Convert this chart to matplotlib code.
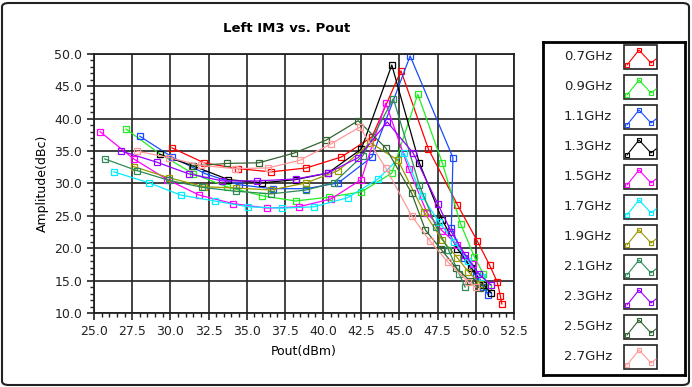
import matplotlib
matplotlib.use("Agg")
import matplotlib.pyplot as plt
from matplotlib.patches import Rectangle, FancyBboxPatch
from matplotlib.ticker import MultipleLocator, FormatStrFormatter

labels = ["0.7GHz", "0.9GHz", "1.1GHz", "1.3GHz", "1.5GHz", "1.7GHz",
          "1.9GHz", "2.1GHz", "2.3GHz", "2.5GHz", "2.7GHz"]
colors = ["#ff0000", "#22ee22", "#1a4cff", "#000000", "#ff00ff", "#00eeff",
          "#999900", "#2e8b57", "#9900ff", "#336633", "#ff9999"]

# Pout (dBm) and left IM3 (dBc) per frequency
pout_07 = [30.1, 32.2, 34.4, 36.6, 38.9, 41.2, 43.2, 45.1, 46.9, 48.8, 50.1, 50.9, 51.4, 51.6, 51.7]
im3_07 = [35.5, 33.2, 32.3, 31.8, 32.4, 34.1, 37.2, 47.4, 35.3, 26.7, 21.1, 17.4, 14.8, 12.7, 11.4]
pout_09 = [27.1, 29.3, 31.5, 33.7, 36.0, 38.2, 40.4, 42.5, 44.5, 46.2, 47.8, 49.0, 49.9, 50.5, 50.8]
im3_09 = [38.4, 34.6, 31.5, 29.5, 28.1, 27.3, 27.9, 28.7, 31.6, 43.8, 33.2, 23.8, 18.7, 16.0, 14.0]
pout_11 = [28.0, 30.1, 32.3, 34.5, 36.7, 38.9, 41.0, 43.2, 45.7, 48.5, 48.4, 49.2, 50.0, 50.5, 50.8]
im3_11 = [37.3, 34.1, 31.5, 29.8, 29.2, 29.2, 30.1, 34.1, 49.7, 34.0, 23.2, 18.5, 15.7, 14.0, 12.8]
pout_13 = [29.3, 31.5, 33.8, 36.0, 38.2, 40.3, 42.5, 44.5, 46.3, 47.8, 48.8, 49.7, 50.5, 51.0]
im3_13 = [34.5, 32.7, 30.6, 30.1, 30.6, 31.6, 35.3, 48.3, 33.2, 24.4, 19.9, 17.0, 14.4, 13.1]
pout_15 = [25.4, 27.6, 29.8, 31.9, 34.1, 36.3, 38.4, 40.5, 42.5, 44.1, 45.6, 46.8, 47.8, 48.8, 49.8]
im3_15 = [38.0, 33.8, 30.6, 28.2, 26.9, 26.2, 26.4, 27.6, 30.6, 42.4, 32.3, 25.5, 22.7, 20.5, 17.5]
pout_17 = [26.3, 28.6, 30.7, 32.9, 35.1, 37.3, 39.4, 41.6, 43.6, 45.3, 46.5, 47.6, 48.6, 49.5, 50.4]
im3_17 = [31.8, 30.1, 28.2, 27.3, 26.4, 26.2, 26.4, 27.8, 30.7, 34.7, 28.0, 24.0, 21.0, 18.0, 15.5]
pout_19 = [27.6, 29.9, 32.2, 34.3, 36.6, 38.9, 41.0, 43.1, 44.9, 46.6, 47.8, 48.8, 49.5, 50.3]
im3_19 = [32.6, 30.9, 29.5, 29.3, 29.0, 30.1, 32.0, 36.3, 33.6, 25.6, 21.3, 18.5, 16.4, 14.5]
pout_21 = [25.7, 27.8, 29.9, 32.1, 34.3, 36.6, 38.9, 40.7, 42.6, 44.6, 46.3, 47.4, 48.2, 48.9, 49.3]
im3_21 = [33.8, 32.0, 30.5, 29.4, 28.8, 28.4, 29.0, 30.1, 34.3, 43.1, 29.8, 23.3, 19.8, 16.1, 14.0]
pout_23 = [26.8, 29.1, 31.2, 33.4, 35.7, 38.2, 40.3, 42.3, 44.2, 45.9, 47.5, 48.4, 49.3, 50.2, 51.0]
im3_23 = [35.0, 33.3, 31.5, 30.4, 30.4, 30.7, 31.6, 34.0, 39.5, 34.7, 26.9, 22.5, 19.0, 16.0, 14.3]
pout_25 = [31.4, 33.7, 35.8, 38.1, 40.2, 42.3, 44.1, 45.8, 46.7, 47.7, 48.7, 49.6, 50.3]
im3_25 = [32.7, 33.1, 33.2, 34.7, 36.7, 39.7, 35.5, 28.5, 22.8, 19.9, 17.0, 15.0, 13.8]
pout_27 = [27.8, 29.9, 32.0, 34.2, 36.4, 38.5, 40.5, 42.4, 44.1, 45.8, 47.0, 48.2, 49.5, 50.0]
im3_27 = [35.0, 34.0, 32.8, 32.3, 32.4, 33.6, 36.1, 38.7, 32.4, 25.0, 21.1, 17.8, 14.8, 14.0]

pouts = [pout_07, pout_09, pout_11, pout_13, pout_15, pout_17, pout_19, pout_21, pout_23, pout_25, pout_27]
im3s = [im3_07, im3_09, im3_11, im3_13, im3_15, im3_17, im3_19, im3_21, im3_23, im3_25, im3_27]

fig = plt.figure(figsize=(6.92, 3.87), dpi=100)
W, H = 692, 387

ax = fig.add_axes([94 / W, 1 - 313 / H, 420 / W, 259 / H])
for x, y, c in zip(pouts, im3s, colors):
    ax.plot(x, y, color=c, lw=0.9, marker="s", ms=5, mfc="none", mec=c, mew=0.9)

ax.set_xlim(25, 52.5)
ax.set_ylim(10, 50)
ax.xaxis.set_major_locator(MultipleLocator(2.5))
ax.xaxis.set_minor_locator(MultipleLocator(0.5))
ax.yaxis.set_major_locator(MultipleLocator(5))
ax.yaxis.set_minor_locator(MultipleLocator(1))
ax.xaxis.set_major_formatter(FormatStrFormatter("%.1f"))
ax.yaxis.set_major_formatter(FormatStrFormatter("%.1f"))
ax.grid(True, which="major", color="#222222", lw=1.2)
ax.set_axisbelow(True)
ax.tick_params(which="major", direction="out", length=5, width=1.2, labelsize=9, colors="#222222")
ax.tick_params(which="minor", direction="out", length=3, width=1, colors="#222222")
for s in ax.spines.values():
    s.set_linewidth(1.3)
    s.set_color("#222222")
ax.set_xlabel("Pout(dBm)", fontsize=9, labelpad=5)
ax.set_ylabel("Amplitude(dBc)", fontsize=9, labelpad=4)
fig.text(287 / W, 1 - 28 / H, "Left IM3 vs. Pout", ha="center", va="center",
         fontsize=9.5, fontweight="bold")

# legend panel
lg = fig.add_axes([543 / W, 1 - 375 / H, 142 / W, 333 / H])
lg.set_xlim(0, 142)
lg.set_ylim(333, 0)
lg.set_xticks([])
lg.set_yticks([])
for s in lg.spines.values():
    s.set_linewidth(2)
for i, (lab, c) in enumerate(zip(labels, colors)):
    yc = 15 + 30 * i
    lg.text(69, yc, lab, ha="right", va="center", fontsize=9.5, color="#222222")
    lg.add_patch(Rectangle((81, yc - 12), 33, 24, fill=False, ec="#222222", lw=1.2))
    ix = [84, 96, 108, 113]
    iy = [yc + 8, yc - 7, yc + 6, yc + 2]
    lg.plot(ix, iy, color=c, lw=0.8)
    lg.plot(ix[:3], iy[:3], ls="none", marker="s", ms=3.5, mfc="none", mec=c, mew=0.8)

# outer frame
fig.patches.append(FancyBboxPatch((2 / W, 2 / H), 1 - 5 / W, 1 - 5 / H,
                                  boxstyle="round,pad=0,rounding_size=0.01",
                                  transform=fig.transFigure, fill=False,
                                  ec="#222222", lw=1.5))

fig.savefig("out.png", dpi=100)
